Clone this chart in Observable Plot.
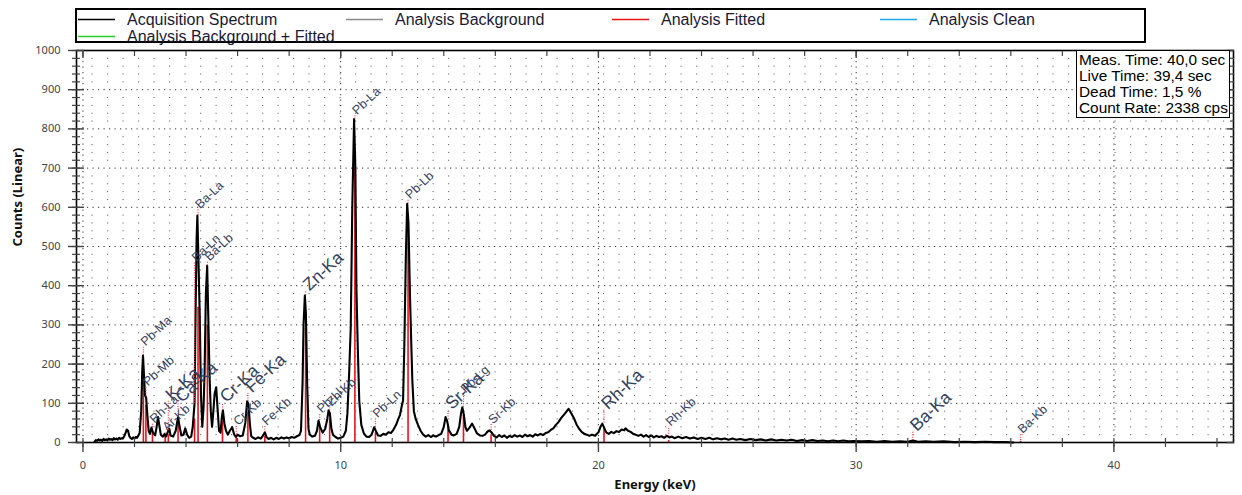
<!DOCTYPE html>
<html>
<head>
<meta charset="utf-8">
<script src="https://cdn.jsdelivr.net/npm/d3@7"></script>
<script src="https://cdn.jsdelivr.net/npm/@observablehq/plot@0.6"></script>
<style>
  html, body { margin: 0; padding: 0; background: #fff; }
  body { width: 1242px; height: 495px; position: relative; overflow: hidden; font-family: "Liberation Sans", Arial, sans-serif; }
  #legend { position: absolute; left: 75px; top: 8px; width: 1071px; height: 35px; border: 2px solid #000; box-sizing: border-box; background: #fff; }
  .item { position: absolute; font-size: 16px; line-height: 17px; color: #1a1a33; white-space: nowrap; }
  .item svg { position: absolute; left: -49px; top: 7px; }
  #info { position: absolute; left: 1076px; top: 50px; width: 154px; height: 68px; border: 1px solid #000; background: #fff; box-sizing: border-box; font-size: 15.4px; line-height: 16px; padding: 1px 0 0 2px; color: #000; white-space: nowrap; }
  #chart { position: absolute; left: 0; top: 0; }
</style>
</head>
<body>
<div id="chart"></div>
<div id="legend"></div>
<div id="info"></div>
<script>
// ---- legend & info ----
const seriesNames  = ["Acquisition Spectrum", "Analysis Background", "Analysis Fitted", "Analysis Clean", "Analysis Background + Fitted"];
const seriesColors = ["#000000", "#8a8a8a", "#ee1111", "#1aa8ea", "#22cc22"];
const infoLines = ["Meas. Time: 40,0 sec", "Live Time: 39,4 sec", "Dead Time: 1,5 %", "Count Rate: 2338 cps"];

// ---- spectrum (energy keV, counts) ----
const energy = [0.45,0.5,0.55,0.6,0.65,0.7,0.75,0.8,0.85,0.9,0.95,1.0,1.05,1.1,1.15,1.2,1.25,1.3,1.35,1.4,1.45,1.5,1.55,1.6,1.65,1.7,1.75,1.8,1.85,1.9,1.95,2.0,2.05,2.1,2.15,2.2,
  2.26,2.3,2.33,2.37,2.41,2.45,2.5,2.55,2.6,2.66,2.72,2.8,2.86,2.91,2.96,3.02,3.1,3.17,3.22,3.3,3.35,3.4,3.5,3.6,3.69,3.75,3.82,3.9,3.97,4.04,4.12,4.2,4.26,4.33,4.37,4.41,4.44,4.48,4.53,4.58,4.63,4.68,4.72,4.77,4.82,4.86,4.91,4.96,5.01,5.06,5.11,5.17,5.22,5.28,5.34,5.39,5.43,5.49,5.55,5.62,5.7,5.79,5.87,5.94,6.0,6.1,6.2,6.3,6.37,6.42,6.48,6.53,
  6.6,6.7,6.8,6.9,7.0,7.06,7.12,7.2,7.3,7.4,7.5,7.6,7.7,7.8,7.9,8.0,8.1,8.2,8.3,8.4,
  8.46,8.52,8.56,8.61,8.65,8.7,8.75,8.8,8.9,9.0,9.08,9.14,9.2,9.3,9.4,9.48,9.53,9.58,9.64,9.7,9.8,9.9,10.0,10.1,10.2,10.26,10.33,10.39,10.45,10.52,10.57,10.61,10.66,10.72,10.8,10.9,11.0,11.1,11.2,11.3,11.36,11.45,11.55,11.65,11.75,11.85,11.95,12.05,12.15,12.24,12.3,12.36,12.42,12.47,12.53,12.58,12.63,12.69,12.74,12.78,12.84,12.91,13.0,13.1,
  13.2,13.3,13.4,13.5,13.6,13.7,13.8,13.9,14.0,14.07,14.13,14.2,14.3,14.39,14.5,14.6,14.67,14.72,14.78,14.84,14.9,15.0,15.1,15.2,15.29,15.4,15.5,15.6,15.7,15.78,15.86,
  15.95,16.05,16.15,16.25,16.35,16.45,16.55,16.65,16.75,16.85,16.95,17.05,17.15,17.25,17.35,17.45,17.55,17.65,17.75,17.85,17.95,18.05,18.15,18.25,18.35,18.45,18.55,18.65,18.75,18.84,18.9,18.95,19.05,19.15,19.25,19.35,19.45,19.55,19.65,19.75,19.87,
  20.0,20.08,20.15,20.22,20.3,20.4,20.5,20.6,20.7,20.8,20.9,21.0,21.05,21.15,21.25,21.35,21.45,21.55,21.65,21.75,21.85,21.95,22.05,22.15,22.25,22.35,22.45,22.55,22.65,22.75,22.85,22.95,
  23.1,23.25,23.4,23.55,23.7,23.85,24.0,24.15,24.3,24.45,24.6,24.75,24.9,25.05,25.2,25.35,25.5,25.7,25.9,26.1,26.3,26.5,26.7,26.9,27.1,27.3,27.5,27.7,27.9,28.1,28.3,28.5,28.7,28.9,29.1,29.3,29.5,29.7,29.9,
  30.2,30.5,30.8,31.1,31.4,31.7,32.0,32.2,32.4,32.7,33.0,33.4,33.8,34.2,34.6,35.0,35.4,35.8,36.1];
const counts = [2,6,4,8,5,7,4,9,6,8,5,10,7,9,6,11,8,10,7,12,9,11,10,16,24,33,30,16,11,9,13,10,14,12,18,24,
  80,180,222,170,120,115,70,30,22,38,25,18,40,65,45,20,15,22,15,28,35,18,15,30,65,40,18,20,36,20,12,15,40,100,330,520,579,470,330,120,40,90,180,380,451,330,176,80,40,80,125,141,90,30,25,65,82,48,30,20,30,39,20,14,20,16,18,50,105,99,45,16,
  12,9,13,10,19,26,14,9,12,8,12,9,13,10,13,11,14,12,16,19,
  30,150,300,375,330,150,35,20,15,17,30,56,40,25,35,60,82,75,35,20,14,10,12,15,30,73,180,294,600,825,700,396,250,107,45,23,15,14,20,39,30,18,17,22,20,26,24,33,45,61,70,90,107,250,480,609,560,371,250,158,80,60,45,30,
  20,15,19,14,18,15,19,22,40,65,55,31,20,18,22,40,75,90,70,39,30,38,48,35,23,18,17,20,28,31,25,
  17,13,19,14,18,12,17,14,19,15,18,14,20,16,19,15,21,18,22,19,24,26,32,36,45,52,62,70,78,86,80,74,62,46,35,27,22,20,17,20,17,
  26,40,48,38,26,22,27,24,29,27,33,31,36,30,27,22,20,17,20,15,19,14,18,13,17,14,16,12,17,13,15,11,
  15,11,14,10,13,9,12,9,12,8,11,8,10,7,10,7,9,6,9,6,8,5,8,5,7,5,7,4,6,4,6,4,5,3,5,3,5,3,4,
  3,4,2,4,2,3,2,5,2,3,2,3,1,2,1,2,1,1,0];

// ---- identified lines: name, energy, fitted height, peak top, label start, big label ----
const lineNames   = ["Pb-Ma","Pb-Mb","Rh-La","Ar-Kb","K-Ka","Ca-Ka","Ba-Ln","Ba-La","Ba-Lb","Cr-Ka","Cr-Kb","Fe-Ka","Fe-Kb","Zn-Ka","Pb-Ll","Zn-Kb","Pb-La","Pb-Ln","Pb-Lb","Sr-Ka","Pb-Lg","Sr-Kb","Rh-Ka","Rh-Kb","Ba-Ka","Ba-Kb"];
const lineEnergy  = [2.345,2.443,2.697,3.19,3.313,3.69,4.33,4.466,4.828,5.414,5.947,6.40,7.058,8.638,9.185,9.572,10.551,11.349,12.614,14.165,14.764,15.835,20.216,22.724,32.194,36.378];
const lineFit     = [155,95,25,15,20,45,60,345,300,55,10,75,15,290,40,60,700,25,540,45,70,20,35,5,3,3];
const linePeak    = [222,118,38,22,30,65,100,579,451,82,20,105,26,375,56,82,825,39,609,65,90,31,50,15,5,5];
const lineLabelAt = [245,143,48,28,105,100,460,595,462,100,42,125,42,385,74,92,835,62,620,82,125,46,82,40,27,22];
const lineBig     = [0,0,0,0,1,1,0,0,0,1,0,1,0,1,0,0,0,0,0,1,0,0,1,0,1,0];

// axis ticks
const xMajor = [0,10,20,30,40];
const xMinor = d3.range(0,45,2);
const yMajor = d3.range(0,1001,100);
const yMinor = d3.range(0,1001,20);

const spectrum = energy.map((e,i) => ({e, c: counts[i]}));
const lines = lineNames.map((n,i) => ({n, e: lineEnergy[i], fit: lineFit[i], peak: linePeak[i], lab: lineLabelAt[i], big: lineBig[i]}));

const labelColor = "#34405c";
const labelFont = '"Liberation Sans", Arial, sans-serif';

const chart = Plot.plot({
  width: 1242, height: 495,
  marginTop: 50, marginBottom: 53, marginLeft: 76, marginRight: 9,
  style: {fontFamily: '"Noto Sans", "DejaVu Sans", sans-serif', fontSize: "11px", color: "#444", background: "transparent", overflow: "visible"},
  x: {domain: [-0.25, 44.64], label: null},
  y: {domain: [0, 1000], label: null},
  marks: [
    // dotted grid
    Plot.gridY(yMinor.filter(v => v % 100 && v < 1000), {stroke: "#6a6a6a", strokeOpacity: 1, strokeWidth: 1, strokeDasharray: "1.2,14.3"}),
    Plot.gridY(yMajor.filter(v => v > 0 && v < 1000), {stroke: "#303030", strokeOpacity: 1, strokeWidth: 1, strokeDasharray: "1.2,4.3"}),
    Plot.gridX(xMajor, {stroke: "#303030", strokeOpacity: 1, strokeWidth: 1, strokeDasharray: "1.2,4.3"}),
    // fitted sticks
    Plot.ruleX(lines, {x: "e", y1: 0, y2: "fit", stroke: "#e8141c", strokeWidth: 1.6}),
    // spectrum
    Plot.line(spectrum, {x: "e", y: "c", stroke: "#000", strokeWidth: 2.1}),
    // marker dots above peaks
    Plot.ruleX(lines, {x: "e", y1: "peak", y2: "lab", stroke: "#f03a3a", strokeWidth: 1.2, strokeDasharray: "1,1.4"}),
    // line labels
    Plot.text(lines.filter(d => !d.big), {x: "e", y: "lab", text: "n", rotate: -43, textAnchor: "start", lineAnchor: "bottom", dx: 2, fontSize: 12.5, fill: labelColor, fontFamily: labelFont}),
    Plot.text(lines.filter(d => d.big), {x: "e", y: "lab", text: "n", rotate: -43, textAnchor: "start", lineAnchor: "bottom", dx: 4, fontSize: 17.5, fill: labelColor, fontFamily: labelFont}),
    // frame
    Plot.frame({stroke: "#000", strokeWidth: 1.6}),
    // axes: bottom
    Plot.axisX(xMajor, {anchor: "bottom", tickSize: 10, tickPadding: 9, tickFormat: d => String(d), strokeWidth: 1.4}),
    Plot.axisX(xMinor, {anchor: "bottom", tickSize: 5, text: null, strokeWidth: 1.2}),
    Plot.axisX(xMinor, {anchor: "bottom", tickSize: 4, dy: -4, text: null, strokeWidth: 1.2}),
    // axes: top (inward ticks)
    Plot.axisX(xMinor, {anchor: "top", tickSize: 5, dy: 5, text: null, strokeWidth: 1.2}),
    Plot.axisX(xMajor, {anchor: "top", tickSize: 7, dy: 7, text: null, strokeWidth: 1.4}),
    // axes: left
    Plot.axisY(yMajor, {anchor: "left", tickSize: 8, tickPadding: 8, tickFormat: d => String(d), strokeWidth: 1.4}),
    Plot.axisY(yMajor, {anchor: "left", tickSize: 8, dx: 8, text: null, strokeWidth: 1.4}),
    Plot.axisY(yMinor, {anchor: "left", tickSize: 4, text: null, strokeWidth: 1.2}),
    Plot.axisY(yMinor, {anchor: "left", tickSize: 4, dx: 4, text: null, strokeWidth: 1.2}),
    // axes: right (inward ticks)
    Plot.axisY(yMinor, {anchor: "right", tickSize: 4, dx: -4, text: null, strokeWidth: 1.2}),
    Plot.axisY(yMajor, {anchor: "right", tickSize: 7, dx: -7, text: null, strokeWidth: 1.4}),
    // axis titles
    Plot.text(["Energy (keV)"], {frameAnchor: "bottom", text: d => d, dy: 46, fontSize: 13, fontWeight: "bold", fill: "#111"}),
    Plot.text(["Counts (Linear)"], {frameAnchor: "left", text: d => d, dx: -59, rotate: -90, fontSize: 13, fontWeight: "bold", fill: "#111"})
  ]
});
document.getElementById("chart").appendChild(chart);

// legend
const legend = document.getElementById("legend");
const legendPos = [[50,1],[318,1],[584,1],[852,1],[50,18]];
seriesNames.forEach((name, i) => {
  const it = document.createElement("div");
  it.className = "item";
  it.style.left = legendPos[i][0] + "px";
  it.style.top = legendPos[i][1] + "px";
  it.innerHTML = `<svg width="37" height="3"><line x1="0" x2="37" y1="1.5" y2="1.5" stroke="${seriesColors[i]}" stroke-width="1.5"/></svg>`;
  it.appendChild(document.createTextNode(name));
  legend.appendChild(it);
});
document.getElementById("info").innerHTML = infoLines.map(t => `<div>${t}</div>`).join("");
</script>
</body>
</html>
